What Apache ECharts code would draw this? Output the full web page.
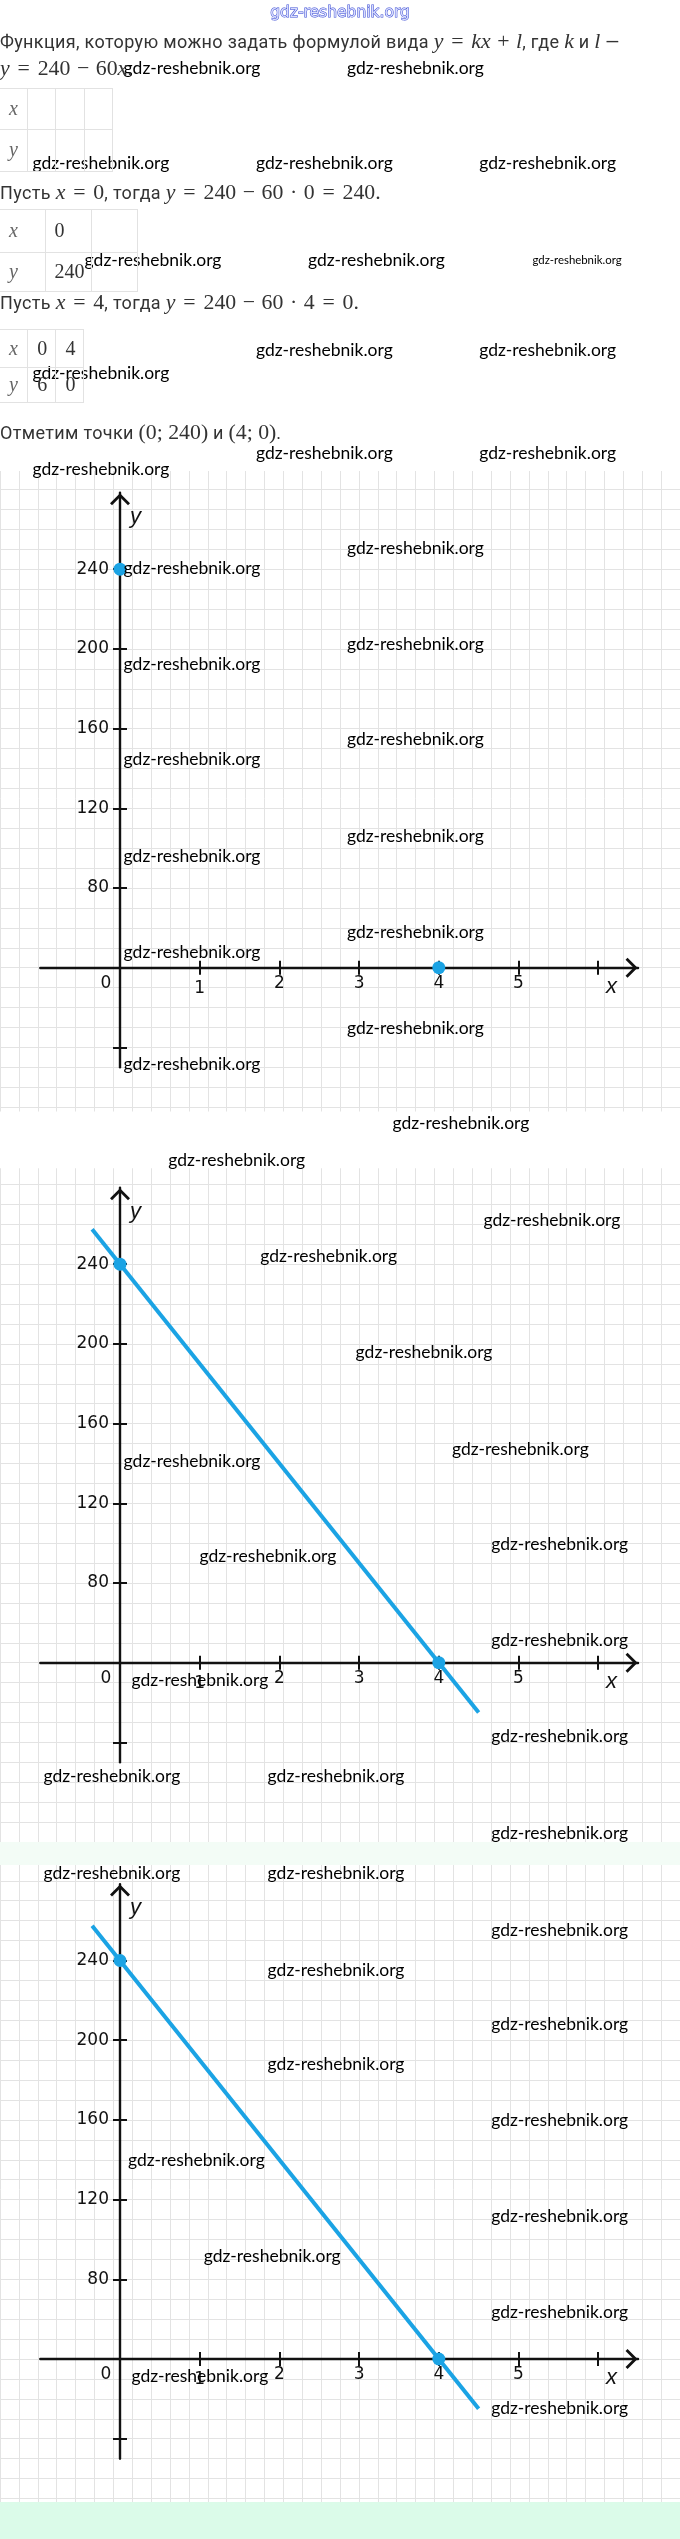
<!DOCTYPE html>
<html><head><meta charset="utf-8">
<script src="https://cdn.jsdelivr.net/npm/echarts@6/dist/echarts.min.js"></script>
<style>
html,body{margin:0;padding:0;background:#fff;}
#wrap{position:relative;width:680px;height:2539px;overflow:hidden;}
#chart{position:absolute;left:0;top:0;width:680px;height:2539px;}
.t{position:absolute;left:0;white-space:nowrap;font-family:Roboto,sans-serif;font-size:18px;letter-spacing:.35px;color:#333;height:26px;line-height:26px;z-index:5;}
.m{font-family:'Liberation Serif',serif;font-size:21.8px;letter-spacing:0;color:#333;}
.m i{font-style:italic;}
.r{margin:0 .36em;}
.b{margin:0 .3em;}
.cell{position:absolute;box-sizing:border-box;border-top:1px solid #e2e2e2;border-right:1px solid #e2e2e2;border-bottom:1px solid #e2e2e2;font-family:'Liberation Serif',serif;font-size:20px;color:#333;padding-left:9px;z-index:5;}
.cell i{color:#666;}
</style></head>
<body><div id="wrap"><div id="chart"></div></div>
<script>
// ---------- data ----------
const pointsX = [0, 4];
const pointsY = [240, 0];
const lineX = [-0.35, 4.5];
const lineY = [261, -30];
const xTickValues = [1, 2, 3, 4, 5, 6];
const xLabelValues = [0, 1, 2, 3, 4, 5];
const xTickLabels = ['0', '1', '2', '3', '4', '5'];
const yTickValues = [-48, 48, 96, 144, 192, 240];
const yLabelValues = [48, 96, 144, 192, 240];
const yTickLabels = ['80', '120', '160', '200', '240'];
const chartHasLine = [false, true, true];
const table1Cells = [['x', '', '', ''], ['y', '', '', '']];
const table2Cells = [['x', '0', ''], ['y', '240', '']];
const table3Cells = [['x', '0', '4'], ['y', '6', '0']];
const watermarkText = 'gdz-reshebnik.org';

// ---------- layout ----------
const X_UNIT = 79.7, Y_UNIT = 79.7 / 48, ORIGIN_X = 120;
const X_MIN = -1, X_MAX = 6.5, Y_MIN = -60, Y_MAX = 286;
const origins = [967.7, 1662.7, 2359.0];
const paperMins = [-96, -108, -96];
const CHEVRON = 'path://M0,10 L10,0 L20,10 L18,12 L10,4 L2,12 Z';

const wrap = document.getElementById('wrap');
function addLine(centerY, html) {
  const d = document.createElement('div');
  d.className = 't'; d.style.top = (centerY - 13) + 'px'; d.innerHTML = html; wrap.appendChild(d);
}
const M = s => '<span class="m">' + s + '</span>';
const I = s => '<i>' + s + '</i>';
const EQ = '<span class="r">=</span>', MI = '<span class="b">−</span>', PL = '<span class="b">+</span>', DOT = '<span class="b">·</span>';
addLine(41, 'Функция, которую можно задать формулой вида ' + M(I('y') + EQ + I('kx') + PL + I('l')) + ', где ' + M(I('k')) + ' и ' + M(I('l')) + ' —');
addLine(68.3, M(I('y') + EQ + '240' + MI + '60' + I('x') + '.'));
addLine(192, 'Пусть ' + M(I('x') + EQ + '0') + ', тогда ' + M(I('y') + EQ + '240' + MI + '60' + DOT + '0' + EQ + '240.'));
addLine(302, 'Пусть ' + M(I('x') + EQ + '4') + ', тогда ' + M(I('y') + EQ + '240' + MI + '60' + DOT + '4' + EQ + '0.'));
addLine(432, 'Отметим точки ' + M('(0; 240)') + ' и ' + M('(4; 0)') + '.');

function buildTable(top, colW, rowH, cells) {
  let y = top;
  rowH.forEach((h, r) => {
    let x = 0;
    colW.forEach((w, c) => {
      const d = document.createElement('div');
      d.className = 'cell';
      d.style.left = x + 'px'; d.style.top = y + 'px'; d.style.width = w + 'px'; d.style.height = h + 'px';
      d.style.lineHeight = (h - 2) + 'px';
      if (r > 0) d.style.borderTop = 'none';
      const v = cells[r][c];
      d.innerHTML = (v === 'x' || v === 'y') ? I(v) : v;
      wrap.appendChild(d);
      x += w;
    });
    y += h;
  });
}
buildTable(88.3, [28.2, 28.2, 28.2, 28.2], [41.7, 41.7], table1Cells);
buildTable(209.3, [45.5, 46.5, 46], [43.4, 39], table2Cells);
buildTable(329.3, [28.2, 28.2, 27.3], [39, 35], table3Cells);

// ---------- chart ----------
const grids = [], xAxes = [], yAxes = [], series = [];
const hidden = { axisLine: { show: false }, axisTick: { show: false }, axisLabel: { show: false } };
const axisLineStyle = { color: '#111', width: 2.4 };
const tickStyle = { color: '#111', width: 2 };
const labelFont = { fontFamily: 'DejaVu Sans', fontSize: 17, color: '#111' };
const graphics = [];
const xOff = -(0 - Y_MIN) * Y_UNIT;   // move x axis from grid bottom up to y = 0
const yOff = -(0 - X_MIN) * X_UNIT;   // move y axis from grid left to x = 0

origins.forEach((oy, i) => {
  // paper grid
  const gp = grids.length;
  grids.push({ left: ORIGIN_X - 1.75 * X_UNIT, top: oy - 300 * Y_UNIT, width: 9 * X_UNIT, height: (300 - paperMins[i]) * Y_UNIT });
  xAxes.push(Object.assign({ type: 'value', gridIndex: gp, min: -1.75, max: 7.25, interval: 0.25, silent: true,
    splitLine: { show: true, lineStyle: { color: '#e3e3e3', width: 1 } } }, hidden));
  yAxes.push(Object.assign({ type: 'value', gridIndex: gp, min: paperMins[i], max: 300, interval: 12, silent: true,
    splitLine: { show: true, lineStyle: { color: '#e3e3e3', width: 1 } } }, hidden));
  // axes grid
  const ga = grids.length;
  grids.push({ left: ORIGIN_X + X_MIN * X_UNIT, top: oy - Y_MAX * Y_UNIT, width: (X_MAX - X_MIN) * X_UNIT, height: (Y_MAX - Y_MIN) * Y_UNIT });
  const xi = xAxes.length, yi = yAxes.length;
  xAxes.push({ type: 'value', gridIndex: ga, min: X_MIN, max: X_MAX, position: 'bottom', offset: xOff,
    axisLine: { onZero: false, lineStyle: axisLineStyle, symbol: ['none', CHEVRON], symbolSize: [20, 13], symbolOffset: [0, -6.5] },
    axisTick: { show: true, customValues: xTickValues, length: 7, lineStyle: tickStyle },
    axisLabel: Object.assign({ customValues: xLabelValues, margin: 7,
      formatter: v => { const s = xTickLabels[xLabelValues.indexOf(v)]; return v === 0 ? '{o|' + s + '}' : (v === 1 ? '{l|' + s + '}' : s); },
      rich: { o: Object.assign({ padding: [0, 28, 0, 0] }, labelFont), l: Object.assign({ padding: [5, 0, 0, 0] }, labelFont) } }, labelFont),
    splitLine: { show: false } });
  xAxes.push({ type: 'value', gridIndex: ga, min: X_MIN, max: X_MAX, position: 'bottom', offset: xOff,
    axisLine: { show: false, onZero: false },
    axisTick: { show: true, inside: true, customValues: xTickValues, length: 7, lineStyle: tickStyle },
    axisLabel: { show: false }, splitLine: { show: false } });
  yAxes.push({ type: 'value', gridIndex: ga, min: Y_MIN, max: Y_MAX, position: 'left', offset: yOff,
    axisLine: { onZero: false, lineStyle: axisLineStyle, symbol: ['none', CHEVRON], symbolSize: [20, 13], symbolOffset: [0, -6.5] },
    axisTick: { show: true, customValues: yTickValues, length: 7, lineStyle: tickStyle },
    axisLabel: Object.assign({ customValues: yLabelValues, margin: 11,
      formatter: v => yTickLabels[yLabelValues.indexOf(v)] }, labelFont),
    splitLine: { show: false } });
  yAxes.push({ type: 'value', gridIndex: ga, min: Y_MIN, max: Y_MAX, position: 'left', offset: yOff,
    axisLine: { show: false, onZero: false },
    axisTick: { show: true, inside: true, customValues: yTickValues, length: 7, lineStyle: tickStyle },
    axisLabel: { show: false }, splitLine: { show: false } });

  if (chartHasLine[i]) {
    series.push({ type: 'line', xAxisIndex: xi, yAxisIndex: yi, symbol: 'none', silent: true, z: 3,
      lineStyle: { color: '#1ba3e4', width: 4 }, data: lineX.map((x, k) => [x, lineY[k]]) });
  }
  series.push({ type: 'scatter', xAxisIndex: xi, yAxisIndex: yi, symbolSize: 13, silent: true, z: 4,
    itemStyle: { color: '#1ba3e4', opacity: 1 }, data: pointsX.map((x, k) => [x, pointsY[k]]) });

  graphics.push({ type: 'text', z: 50, style: { text: 'y', x: 130, y: oy - 451, verticalAlign: 'middle', font: 'italic 22px "Liberation Sans"', fill: '#111' } });
  graphics.push({ type: 'text', z: 50, style: { text: 'x', x: 606, y: oy + 19, verticalAlign: 'middle', font: 'italic 22px "Liberation Sans"', fill: '#111' } });
});

// covers / bands
graphics.push({ type: 'rect', z: 20, shape: { x: 0, y: 0, width: 680, height: 471 }, style: { fill: '#ffffff' } });
graphics.push({ type: 'rect', z: 20, shape: { x: 0, y: 1111.5, width: 680, height: 56.8 }, style: { fill: '#ffffff' } });
graphics.push({ type: 'rect', z: 20, shape: { x: 0, y: 1842, width: 680, height: 23 }, style: { fill: '#f3fcf6' } });
graphics.push({ type: 'rect', z: 20, shape: { x: 0, y: 2502, width: 680, height: 37 }, style: { fill: '#dbfbe9' } });

// watermarks
const wmPos = [
  [123.6, 68.3], [347, 68.3],
  [32.5, 163.3], [255.9, 163.3], [479.2, 163.3],
  [84.6, 260], [307.9, 260],
  [255.9, 350], [479.2, 350], [32.5, 373],
  [255.9, 453.3], [479.2, 453.3], [32.5, 469],
  [123.6, 568.3], [123.6, 664], [123.6, 759.3], [123.6, 856.7], [123.6, 952.3], [123.6, 1064],
  [347, 548.3], [347, 644], [347, 739.3], [347, 836.7], [347, 932.3], [347, 1028.3],
  [392.5, 1123.3], [168.3, 1160],
  [483.5, 1220], [260.2, 1256.7], [355.6, 1352], [451.9, 1449], [123.6, 1461.7], [491.3, 1544], [199.5, 1556.7],
  [491.3, 1640], [131.4, 1680], [491.3, 1736.7], [43.4, 1776.7], [267.6, 1776.7],
  [491.3, 1833.3], [43.4, 1873.3], [267.6, 1873.3],
  [491.3, 1930], [267.6, 1970], [491.3, 2024.3], [267.6, 2064.7], [491.3, 2120], [127.9, 2160],
  [491.3, 2216.7], [203.8, 2256.7], [491.3, 2312.3], [131.4, 2376.7], [491.3, 2408]
];
wmPos.forEach(p => graphics.push({ type: 'text', z: 100, style: { text: watermarkText, x: p[0], y: p[1], verticalAlign: 'middle', font: '17.5px Lato', fill: '#000' } }));
graphics.push({ type: 'text', z: 100, style: { text: watermarkText, x: 532.5, y: 260, verticalAlign: 'middle', font: '11.4px Lato', fill: '#000' } });
graphics.push({ type: 'text', z: 100, style: { text: watermarkText, x: 340, y: 12.7, align: 'center', verticalAlign: 'middle', font: '15.5px "DejaVu Sans"', fill: '#d9ddfd', stroke: '#3b4cd4', lineWidth: 1 } });

const chart = echarts.init(document.getElementById('chart'), null, { renderer: 'canvas' });
chart.setOption({
  animation: false,
  backgroundColor: '#ffffff',
  grid: grids, xAxis: xAxes, yAxis: yAxes, series: series,
  graphic: { elements: graphics }
});
</script></body></html>
